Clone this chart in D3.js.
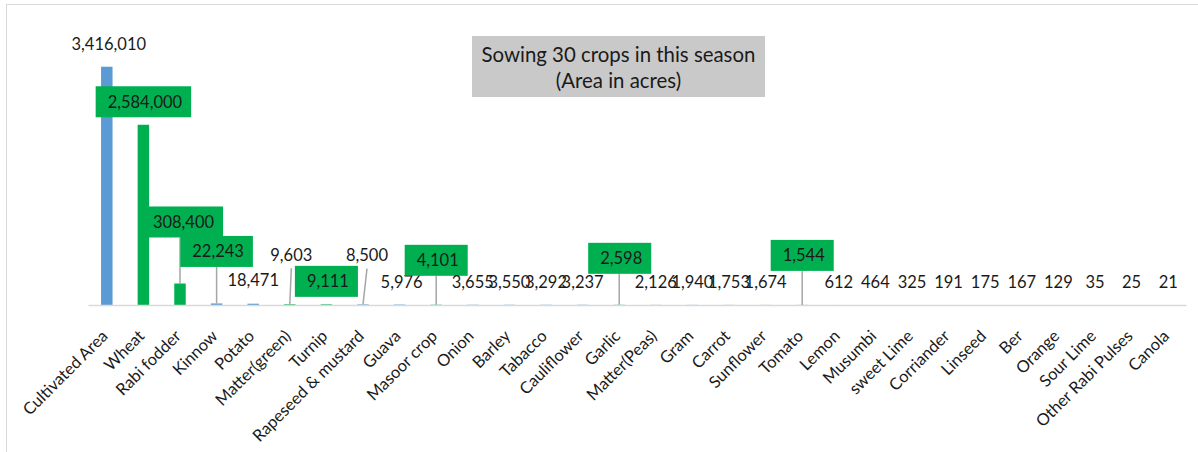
<!DOCTYPE html>
<html><head><meta charset="utf-8">
<script src="https://cdn.jsdelivr.net/npm/d3@7"></script>
<style>
body{margin:0;background:#fff}
svg{display:block}
text{font-family:Lato,"Open Sans",sans-serif}
</style>
</head><body>
<svg id="c" width="1198" height="452"></svg>
<script>
// ---------- data ----------
const categories = ["Cultivated Area","Wheat","Rabi fodder","Kinnow","Potato","Matter(green)","Turnip",
  "Rapeseed & mustard","Guava","Masoor crop","Onion","Barley","Tabacco","Cauliflower","Garlic",
  "Matter(Peas)","Gram","Carrot","Sunflower","Tomato","Lemon","Musumbi","sweet Lime","Corriander",
  "Linseed","Ber","Orange","Sour Lime","Other Rabi Pulses","Canola"];
const values = [3416010,2584000,308400,22243,18471,9603,9111,8500,5976,4101,3655,3550,3292,3237,2598,
  2126,1940,1753,1674,1544,612,464,325,191,175,167,129,35,25,21];
const titleLines = ["Sowing 30 crops in this season","(Area in acres)"];

// ---------- styling (not data) ----------
const greenBars = ["Wheat","Rabi fodder","Matter(green)","Turnip","Masoor crop","Garlic","Tomato"];
const boxedLabels = ["Wheat","Rabi fodder","Kinnow","Turnip","Masoor crop","Garlic","Tomato"];
// manual label nudges [dx, dy] from default "outside end" position
const labelNudge = {"Cultivated Area":[2,0],"Rabi fodder":[2,-38.5],"Kinnow":[0,-29],
  "Matter(green)":[1.5,-26],"Rapeseed & mustard":[4,-25.7],"Guava":[2,1],"Masoor crop":[0,-21.4],
  "Garlic":[0.5,-23.5],"Tomato":[0,-26.5]};

const BLUE="#5B9BD5", GREEN="#00B050";
const svg = d3.select("#c");

svg.append("rect").attr("x",6.5).attr("y",4.5).attr("width",1400).attr("height",600)
  .attr("fill","#fff").attr("stroke","#d9d9d9").attr("stroke-width",1);

const x = d3.scaleBand().domain(categories).range([88.5,1186.5]).paddingInner(0.686).paddingOuter(0.343);
const y = d3.scaleLinear().domain([0,4000000]).range([305,26]);

const data = categories.map((c,i)=>({c, v:values[i]}));

// bars
svg.append("g").selectAll("rect").data(data).join("rect")
  .attr("x",d=>x(d.c)).attr("width",x.bandwidth())
  .attr("y",d=>y(d.v)).attr("height",d=>y(0)-y(d.v))
  .attr("fill",d=>greenBars.includes(d.c)?GREEN:BLUE);

// baseline
svg.append("line").attr("x1",88.5).attr("x2",1186.5).attr("y1",305.5).attr("y2",305.5)
  .attr("stroke","#d9d9d9").attr("stroke-width",1.5);

// x axis
const ax = svg.append("g").attr("transform","translate(0,305)").call(d3.axisBottom(x).tickSize(0));
ax.select(".domain").remove();
ax.selectAll(".tick text")
  .attr("font-family","Lato, sans-serif").attr("font-size",16.5).attr("fill","#1a1a1a")
  .attr("text-anchor","end").attr("dy","0.35em").attr("y",0)
  .attr("transform","translate(-2,28) rotate(-45)");

// data labels
const fmt = d3.format(",");
const lab = svg.append("g");
data.forEach(d=>{
  const bx = x(d.c)+x.bandwidth()/2, by = y(d.v);
  const nd = labelNudge[d.c]||[0,0];
  const cx = bx+nd[0], cy = by-23+nd[1];
  const boxed = boxedLabels.includes(d.c);
  const g = lab.append("g");
  const t = g.append("text").attr("x",cx+(boxed?1.5:0)).attr("y",cy).attr("dy","0.35em")
    .attr("text-anchor","middle").attr("font-size",16.5).attr("fill","#1a1a1a").text(fmt(d.v));
  const tw = t.node().getComputedTextLength();
  let bottom = cy+10;
  if(boxed){
    const bw = tw+21, bh=31;
    g.insert("rect","text").attr("x",cx-bw/2).attr("y",cy-bh/2).attr("width",bw).attr("height",bh).attr("fill",GREEN);
    bottom = cy+bh/2;
  }
  if(nd[1] < -10){
    const lx1 = boxed? bx : cx, ly1 = boxed? bottom : bottom+3;
    lab.insert("line",":first-child").attr("x1",lx1).attr("y1",ly1).attr("x2",bx).attr("y2",by)
      .attr("stroke","#a6a6a6").attr("stroke-width",1.5);
  }
});

// title box
const tg = svg.append("g");
tg.append("rect").attr("x",472).attr("y",36).attr("width",293).attr("height",61).attr("fill","#c9c9c9");
tg.selectAll("text").data(titleLines).join("text")
  .attr("x",618.5).attr("y",(d,i)=>55+i*26).attr("dy","0.35em").attr("text-anchor","middle")
  .attr("font-size",20.4).attr("fill","#1a1a1a").text(d=>d);
</script>
</body></html>
